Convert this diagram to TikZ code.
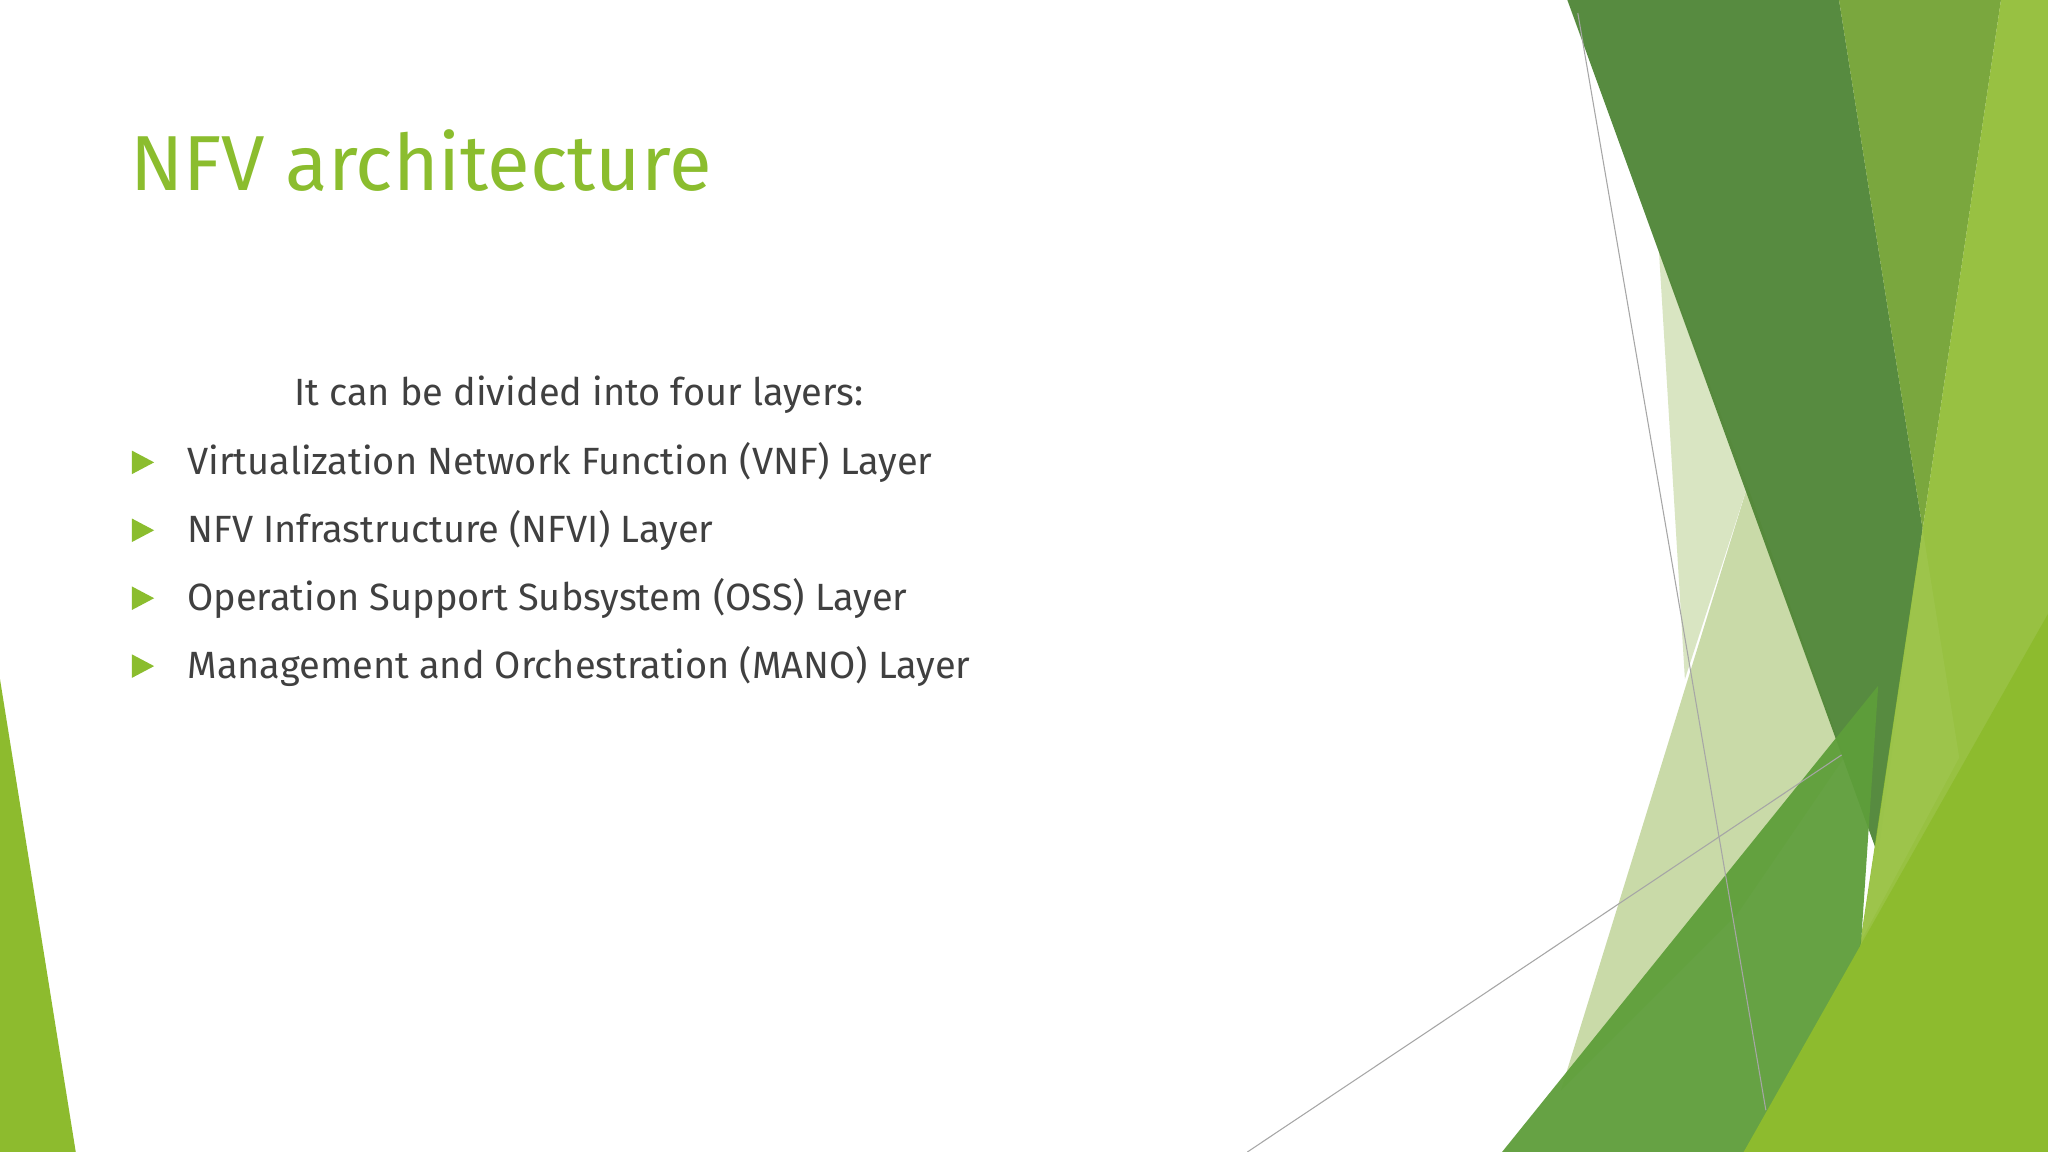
\documentclass[tikz,border=0pt]{standalone}
\usepackage{fontspec}
\setmainfont{Fira Sans}
\definecolor{titlegreen}{HTML}{8BBD2E}
\definecolor{textgray}{HTML}{404040}
\definecolor{dkgreen}{HTML}{4F8536}
\definecolor{midgreen}{HTML}{6C9E2A}
\definecolor{ltgreen}{HTML}{8DBB2E}
\definecolor{botgreen}{HTML}{5E9E3A}
\definecolor{pale}{HTML}{C9DAA8}
\tikzset{
  title/.style={anchor=west, text=titlegreen, font=\fontsize{22.2}{25}\selectfont, inner sep=0},
  body/.style={anchor=west, text=textgray, font=\fontsize{10.8}{13}\selectfont, inner sep=0},
  bullet/.style={fill=titlegreen},
  thin/.style={draw=gray!70, line width=0.3pt}
}
\begin{document}
\begin{tikzpicture}[x=0.013061cm,y=-0.013061cm]
\useasboundingbox (0,0) rectangle (1568,882);
\fill[white] (0,0) rectangle (1568,882);
% decorative shapes
\fill[pale] (1195,835) -- (1338,372) -- (1412,580) -- (1330,700) -- cycle;
\fill[pale!70!white] (1270,190) -- (1338,372) -- (1290,520) -- cycle;
\fill[dkgreen, opacity=0.95] (1200,0) -- (1408,0) -- (1472,405) -- (1438,655) -- cycle;
\fill[midgreen, opacity=0.9] (1408,0) -- (1532,0) -- (1472,405) -- cycle;
\fill[ltgreen, opacity=0.9] (1532,0) -- (1568,0) -- (1568,882) -- (1400,882) -- (1472,405) -- cycle;
\fill[botgreen, opacity=0.95] (1150,882) -- (1438,525) -- (1425,720) -- (1400,882) -- cycle;
\fill[ltgreen!85!white, opacity=0.9] (1472,405) -- (1500,580) -- (1425,720) -- cycle;
\fill[ltgreen] (1335,882) -- (1568,470) -- (1568,882) -- cycle;
\fill[ltgreen] (0,520) -- (58,882) -- (0,882) -- cycle;
\draw[thin] (1208,10) -- (1352,850);
\draw[thin] (955,882) -- (1410,578);
% text
\node[title] (t) at (99,123) {NFV architecture};
\node[body] (intro) at (225,302) {It can be divided into four layers:};
\foreach \y/\txt/\nm in {354/Virtualization Network Function (VNF) Layer/a,
                          406/NFV Infrastructure (NFVI) Layer/b,
                          458/Operation Support Subsystem (OSS) Layer/c,
                          510/Management and Orchestration (MANO) Layer/d}{
  \fill[bullet] (101,\y-9) -- (118,\y) -- (101,\y+9) -- cycle;
  \node[body] (\nm) at (143,\y) {\txt};
}
\end{tikzpicture}
\end{document}
